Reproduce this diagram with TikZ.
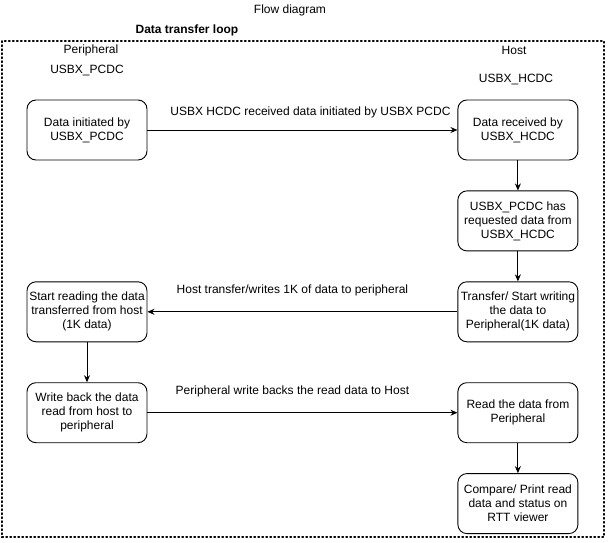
\documentclass[tikz,border=0pt]{standalone}
\usepackage{fontspec}
\setmainfont{Liberation Sans}
\usetikzlibrary{positioning,arrows.meta}

\tikzset{
    stepbox/.style={draw, rounded corners=9pt, line width=0.9pt, minimum width=120pt, minimum height=60pt, align=center, inner sep=1pt, font=\fontsize{12}{14}\selectfont},
    flow/.style={-{Stealth[length=7pt, width=6pt]}, line width=0.9pt},
    caption/.style={font=\fontsize{12}{14}\selectfont},
}

\begin{document}
\begin{tikzpicture}[x=1pt, y=-1pt]
    \useasboundingbox (0,0) rectangle (608,543);
    \draw [line width=1.4pt, dash pattern=on 1.4pt off 2.6pt, line cap=round] (2,41) rectangle (604,537);
    \node [caption] (title) at (290,10) {Flow diagram};
    \node [caption, font=\fontsize{12}{14}\selectfont\bfseries] (loop) at (187,30) {Data transfer loop};
    \node [caption] (per) at (91,50) {Peripheral};
    \node [caption] (pcdc) at (87,71) {USBX\_PCDC};
    \node [caption] (host) at (514,50) {Host};
    \node [caption] (hcdc) at (516,80) {USBX\_HCDC};

    \node [stepbox] (init) at (87,130) {Data initiated by\\USBX\_PCDC};
    \node [stepbox, right=310pt of init] (recv) {Data received by\\USBX\_HCDC};
    \node [stepbox, below=30pt of recv] (req) {USBX\_PCDC has\\requested data from\\USBX\_HCDC};
    \node [stepbox, below=30pt of req] (wr) {Transfer/ Start writing\\the data to\\Peripheral(1K data)};
    \node [stepbox, left=310pt of wr] (rd) {Start reading the data\\transferred from host\\(1K data)};
    \node [stepbox, below=40pt of rd] (wb) {Write back the data\\read from host to\\peripheral};
    \node [stepbox, right=310pt of wb] (rdp) {Read the data from\\Peripheral};
    \node [stepbox, below=30pt of rdp] (cmp) {Compare/ Print read\\data and status on\\RTT viewer};

    \draw [flow] (init) -- node [caption, above=8pt, xshift=8pt] (l1) {USBX HCDC received data initiated by USBX PCDC} (recv);
    \draw [flow] (recv) -- (req);
    \draw [flow] (req) -- (wr);
    \draw [flow] (wr) -- node [caption, above=12pt, xshift=-10pt] (l2) {Host transfer/writes 1K of data to peripheral} (rd);
    \draw [flow] (rd) -- (wb);
    \draw [flow] (wb) -- node [caption, above=12pt, xshift=-10pt] (l3) {Peripheral write backs the read data to Host} (rdp);
    \draw [flow] (rdp) -- (cmp);
\end{tikzpicture}
\end{document}
